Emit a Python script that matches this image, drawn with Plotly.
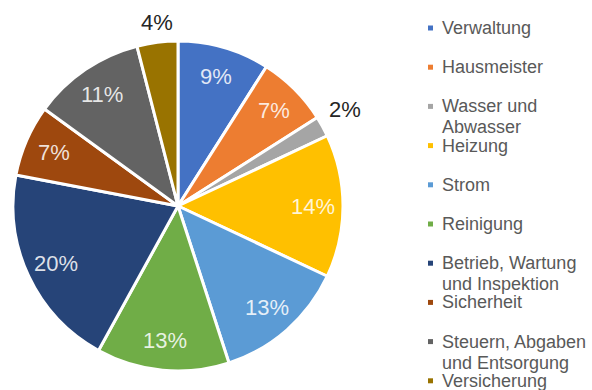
import math
import plotly.graph_objects as go

# Kostenanteile (Prozent) je Kostenart, im Uhrzeigersinn ab 12 Uhr
categories = [
    "Verwaltung",
    "Hausmeister",
    "Wasser und Abwasser",
    "Heizung",
    "Strom",
    "Reinigung",
    "Betrieb, Wartung und Inspektion",
    "Sicherheit",
    "Steuern, Abgaben und Entsorgung",
    "Versicherung",
]
shares = [9, 7, 2, 14, 13, 13, 20, 7, 11, 4]

# Zeilenumbrüche der Legendeneinträge
legend_lines = [
    ["Verwaltung"],
    ["Hausmeister"],
    ["Wasser und", "Abwasser"],
    ["Heizung"],
    ["Strom"],
    ["Reinigung"],
    ["Betrieb, Wartung", "und Inspektion"],
    ["Sicherheit"],
    ["Steuern, Abgaben", "und Entsorgung"],
    ["Versicherung"],
]

colors = [
    "#4472C4", "#ED7D31", "#A5A5A5", "#FFC000", "#5B9BD5",
    "#70AD47", "#264478", "#9E480E", "#636363", "#997300",
]

FONT = "Liberation Sans, Arial, sans-serif"
W, H = 592, 390
cx, cy, r = 178, 206, 165

fig = go.Figure(
    go.Pie(
        labels=categories,
        values=shares,
        sort=False,
        direction="clockwise",
        rotation=0,
        marker=dict(colors=colors, line=dict(color="white", width=3)),
        textinfo="none",
        hoverinfo="label+percent",
        showlegend=False,
        domain=dict(x=[(cx - r) / W, (cx + r) / W],
                    y=[(H - cy - r) / H, (H - cy + r) / H]),
    )
)

annotations = []

# Prozentbeschriftung: große Anteile innen (weiß), kleine außen (dunkel)
total = sum(shares)
cum = 0.0
for v in shares:
    mid = (cum + v / 2) / total * 2 * math.pi
    cum += v
    s, c = math.sin(mid), math.cos(mid)
    if v > 4:
        rr = 0.82 * r
        annotations.append(dict(
            text=f"{v}%", xref="paper", yref="paper",
            x=(cx + rr * s) / W, y=(H - (cy - rr * c)) / H,
            xanchor="center", yanchor="middle", showarrow=False,
            font=dict(family=FONT, size=22, color="rgba(255,255,255,0.85)"),
        ))
    else:
        rr = r + 5
        xa = "left" if s > 0.3 else ("right" if s < -0.3 else "center")
        ya = "bottom" if c > 0.3 else ("top" if c < -0.3 else "middle")
        annotations.append(dict(
            text=f"{v}%", xref="paper", yref="paper",
            x=(cx + rr * s) / W, y=(H - (cy - rr * c)) / H,
            xanchor=xa, yanchor=ya, showarrow=False,
            font=dict(family=FONT, size=22, color="#262626"),
        ))

# Legende rechts: Farbquadrat + Text, Zeilen je Eintrag
legend_x0 = 440
slot_top = 28
slot_step = 39.2
line_step = 21
shapes = []
for i, lines in enumerate(legend_lines):
    y0 = slot_top + i * slot_step
    shapes.append(dict(
        type="rect", xref="paper", yref="paper",
        x0=(legend_x0 - 12) / W, x1=(legend_x0 - 7) / W,
        y0=(H - y0 - 2.5) / H, y1=(H - y0 + 2.5) / H,
        fillcolor=colors[i], line=dict(width=0),
    ))
    for j, txt in enumerate(lines):
        yy = y0 + j * line_step
        annotations.append(dict(
            text=txt, xref="paper", yref="paper",
            x=legend_x0 / W, y=(H - yy) / H,
            xanchor="left", yanchor="middle", showarrow=False,
            font=dict(family=FONT, size=18, color="#595959"),
        ))

fig.update_layout(
    width=W, height=H,
    margin=dict(l=0, r=0, t=0, b=0),
    paper_bgcolor="white",
    plot_bgcolor="white",
    shapes=shapes,
    annotations=annotations,
)

fig.write_html("out.html")
